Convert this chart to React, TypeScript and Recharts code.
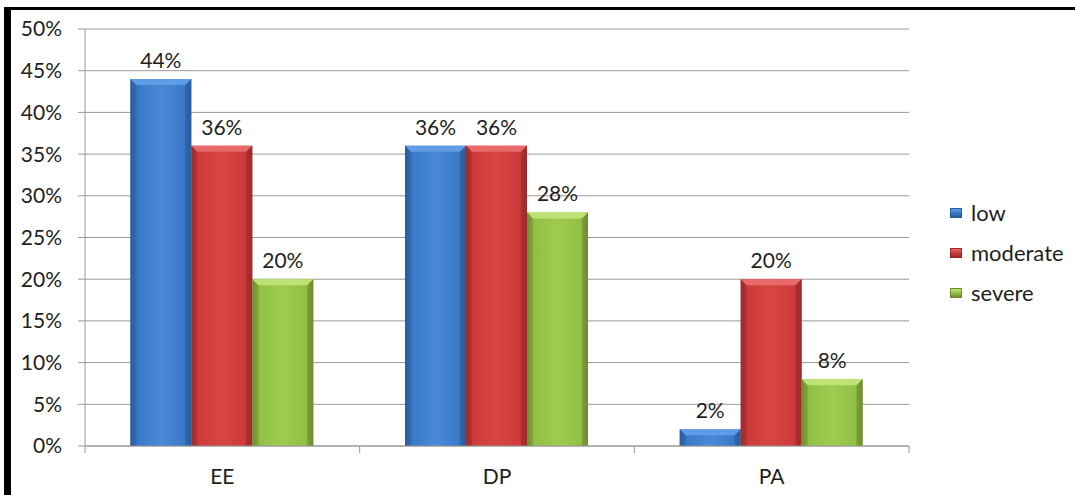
import React from 'react';
import { BarChart, Bar, XAxis, YAxis, CartesianGrid, LabelList } from 'recharts';

// 카테고리와 계열별 값 (%)
const categories = ['EE', 'DP', 'PA'];
const lowValues = [44, 36, 2];
const moderateValues = [36, 36, 20];
const severeValues = [20, 28, 8];
const yTicks = [0, 5, 10, 15, 20, 25, 30, 35, 40, 45, 50];

const FONT = 'Lato, "Open Sans", sans-serif';
const GRID = '#9a9a9a';
const TEXT = '#1e1e1e';

type Tone = { id: string; name: string; key: string; dark: string; mid: string; light: string; bevel: string };

const series: Tone[] = [
  { id: 'gLow', name: 'low', key: 'low', dark: '#2b5c9c', mid: '#3a78c8', light: '#4a88d8', bevel: '#5f9de6' },
  { id: 'gMod', name: 'moderate', key: 'moderate', dark: '#9c2a2a', mid: '#cc3a3a', light: '#d94545', bevel: '#e86a6a' },
  { id: 'gSev', name: 'severe', key: 'severe', dark: '#6f8c30', mid: '#92c044', light: '#9ecb50', bevel: '#bde276' },
];

const data = categories.map((c, i) => ({
  name: c,
  low: lowValues[i],
  moderate: moderateValues[i],
  severe: severeValues[i],
}));

// 엑셀 2007 스타일의 베벨 막대
function BevelBar(tone: Tone) {
  return (props: any) => {
    const { x, y, width, height } = props;
    if (!height || height <= 0) return null;
    const b = Math.min(6, height / 2);
    return (
      <g>
        <rect x={x} y={y} width={width} height={height} fill={`url(#${tone.id})`} />
        <polygon
          points={`${x},${y} ${x + width},${y} ${x + width - b},${y + b} ${x + b},${y + b}`}
          fill={tone.bevel}
        />
        <polygon
          points={`${x},${y} ${x + b},${y + b} ${x + b},${y + height} ${x},${y + height}`}
          fill={tone.dark}
          opacity={0.35}
        />
        <polygon
          points={`${x + width},${y} ${x + width - b},${y + b} ${x + width - b},${y + height} ${x + width},${y + height}`}
          fill={tone.dark}
          opacity={0.55}
        />
      </g>
    );
  };
}

// 카테고리 라벨 + 카테고리 경계 눈금선
function CategoryTick(props: any) {
  const { x, y, payload, index, visibleTicksCount } = props;
  const half = payload?.offset ?? 0;
  const last = index === visibleTicksCount - 1;
  return (
    <g>
      <line x1={x - half} y1={y} x2={x - half} y2={y + 7} stroke={GRID} />
      {last && <line x1={x + half} y1={y} x2={x + half} y2={y + 7} stroke={GRID} />}
      <text x={x} y={y + 38} textAnchor="middle" fill={TEXT} fontSize={21} fontFamily={FONT}>
        {payload.value}
      </text>
    </g>
  );
}

export default function App() {
  return (
    <div
      style={{
        position: 'absolute',
        left: 0,
        top: 0,
        width: 1075,
        height: 495,
        background: '#fff',
        overflow: 'hidden',
        fontFamily: FONT,
      }}
    >
      <BarChart
        width={1075}
        height={495}
        data={data}
        margin={{ top: 29, right: 166, bottom: 0, left: 0 }}
        barCategoryGap="16.5%"
        barGap={0}
      >
        <defs>
          {series.map((s) => (
            <linearGradient key={s.id} id={s.id} x1="0" y1="0" x2="1" y2="0">
              <stop offset="0%" stopColor={s.dark} />
              <stop offset="12%" stopColor={s.mid} />
              <stop offset="50%" stopColor={s.light} />
              <stop offset="88%" stopColor={s.mid} />
              <stop offset="100%" stopColor={s.dark} />
            </linearGradient>
          ))}
        </defs>
        <CartesianGrid vertical={false} stroke={GRID} />
        <XAxis
          dataKey="name"
          height={49}
          interval={0}
          axisLine={{ stroke: GRID }}
          tickLine={false}
          tickSize={0}
          tickMargin={0}
          tick={<CategoryTick />}
        />
        <YAxis
          width={85}
          domain={[0, 50]}
          ticks={yTicks}
          interval={0}
          tickFormatter={(v) => `${v}%`}
          axisLine={{ stroke: GRID }}
          tickLine={{ stroke: GRID }}
          tickSize={7}
          tickMargin={16}
          tick={{ fill: TEXT, fontSize: 21, fontFamily: FONT }}
        />
        {series.map((s) => (
          <Bar
            key={s.key}
            dataKey={s.key}
            name={s.name}
            fill={s.mid}
            shape={BevelBar(s)}
            isAnimationActive={false}
          >
            <LabelList
              dataKey={s.key}
              position="top"
              offset={11}
              formatter={(v: any) => `${v}%`}
              style={{ fill: TEXT, fontSize: 21, fontFamily: FONT }}
            />
          </Bar>
        ))}
      </BarChart>

      {/* 범례 */}
      <div style={{ position: 'absolute', left: 950, top: 193 }}>
        {series.map((s) => (
          <div key={s.key} style={{ display: 'flex', alignItems: 'center', height: 40 }}>
            <span
              style={{
                width: 12,
                height: 10,
                marginRight: 9,
                background: `linear-gradient(180deg, ${s.bevel}, ${s.mid} 50%, ${s.dark})`,
                border: `1px solid ${s.dark}`,
                boxSizing: 'border-box',
              }}
            />
            <span style={{ fontSize: 22, color: TEXT, lineHeight: '24px' }}>{s.name}</span>
          </div>
        ))}
      </div>

      {/* 테두리 */}
      <div style={{ position: 'absolute', left: 4, top: 7, width: 1071, height: 3, background: '#000' }} />
      <div style={{ position: 'absolute', left: 4, top: 7, width: 7, height: 488, background: '#000' }} />
    </div>
  );
}
